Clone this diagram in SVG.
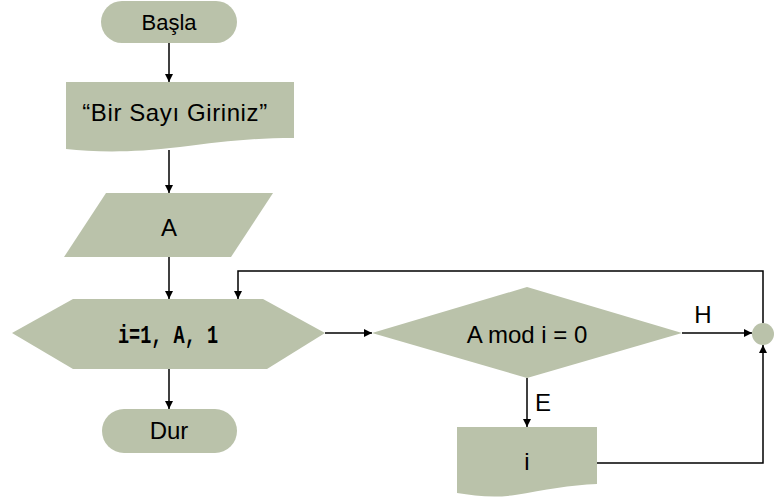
<svg xmlns="http://www.w3.org/2000/svg" width="777" height="499" viewBox="0 0 777 499">
<style>
.s{fill:#bac2aa;stroke:none}
.t{font-family:"Liberation Sans",Arial,sans-serif;fill:#000;text-anchor:middle}
.c{fill:none;stroke:#000;stroke-width:1.5}
</style>
<defs>
<marker id="ah" viewBox="0 0 10 10" refX="10" refY="5" markerWidth="8" markerHeight="8" markerUnits="userSpaceOnUse" orient="auto">
<path d="M0,0 L10,5 L0,10 Z" fill="#000"/>
</marker>
</defs>
<g id="connectors">
<path class="c" d="M169,43 V82" marker-end="url(#ah)"/>
<path class="c" d="M169,150 V193" marker-end="url(#ah)"/>
<path class="c" d="M169,257 V299" marker-end="url(#ah)"/>
<path class="c" d="M169,369 V409" marker-end="url(#ah)"/>
<path class="c" d="M325,333 H372" marker-end="url(#ah)"/>
<path class="c" d="M682,333 H752" marker-end="url(#ah)"/>
<path class="c" d="M527,378 V427" marker-end="url(#ah)"/>
<path class="c" d="M597,463 H763 V345" marker-end="url(#ah)"/>
<path class="c" d="M763,323 V271 H238 V299" marker-end="url(#ah)"/>
<text class="t" x="703" y="323" style="font-size:24px">H</text>
<text class="t" x="543" y="411" style="font-size:24px">E</text>
</g>
<g id="start">
<rect class="s" x="101" y="1" width="136" height="42" rx="21"/>
<text class="t" x="169" y="30" style="font-size:22px">Başla</text>
</g>
<g id="prompt">
<path class="s" d="M66,82 H294 V138 C250,138 220,142 180,147 C130,153 95,152 66,149 Z"/>
<text class="t" x="175" y="121" style="font-size:24px;letter-spacing:0.6px">“Bir Sayı Giriniz”</text>
</g>
<g id="input">
<polygon class="s" points="106,193 273,193 231,257 64,257"/>
<text class="t" x="169" y="236" style="font-size:24px">A</text>
</g>
<g id="loop">
<polygon class="s" points="73,299 263,299 325,333 267,369 73,369 12,333"/>
<text x="118" y="343" textLength="100" lengthAdjust="spacingAndGlyphs" style="font-family:'Liberation Mono','Courier New',monospace;font-weight:bold;font-size:26px">i=1, A, 1</text>
</g>
<g id="stop">
<rect class="s" x="102" y="409" width="135" height="44" rx="22"/>
<text class="t" x="169" y="439" style="font-size:24px">Dur</text>
</g>
<g id="decision">
<polygon class="s" points="372,333 527,287 682,333 527,378"/>
<text class="t" x="527" y="343" style="font-size:24px">A mod i = 0</text>
</g>
<g id="output">
<path class="s" d="M457,427 H597 V484 C570,485 545,490 515,495 C495,498 475,496 457,493 Z"/>
<text class="t" x="527" y="470" style="font-size:24px">i</text>
</g>
<g id="join">
<circle class="s" cx="763" cy="334" r="11"/>
</g>
</svg>
